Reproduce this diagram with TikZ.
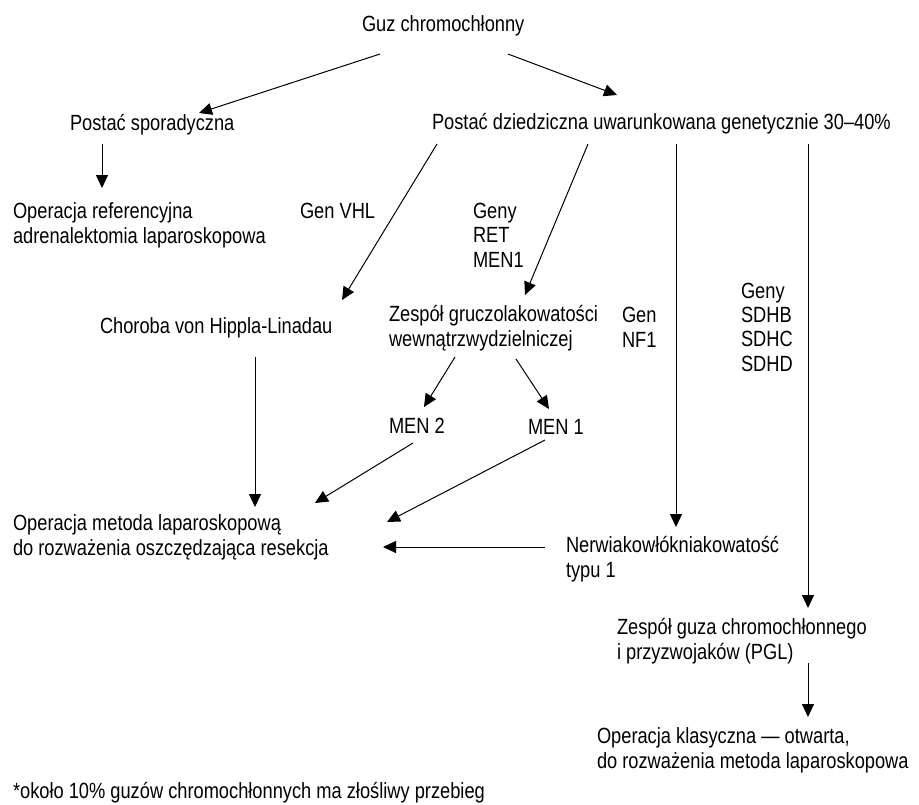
\documentclass[tikz,border=0pt]{standalone}
\usepackage{fontspec}
\setmainfont[FakeStretch=0.83]{Liberation Sans}
\usetikzlibrary{arrows.meta}
\begin{document}
\begin{tikzpicture}[x=1pt,y=-1pt,
  lbl/.style={anchor=base west,inner sep=0pt,outer sep=0pt,align=left,
    font=\fontsize{22}{24.3}\selectfont},
  arr/.style={line width=1pt,-{Triangle[length=13pt,width=12pt]}}]
\useasboundingbox (0,0) rectangle (919,804);
% base anchor of a multi-line node = baseline of its last line
\node[lbl] (guz) at (362,31) {Guz chromochłonny};
\node[lbl] (spor) at (70,130) {Postać sporadyczna};
\node[lbl] (dzied) at (432,129) {Postać dziedziczna uwarunkowana genetycznie 30–40\%};
\node[lbl] (oref) at (13,243) {Operacja referencyjna\\adrenalektomia laparoskopowa};
\node[lbl] (vhl) at (300,218) {Gen VHL};
\node[lbl] (ret) at (473,267) {Geny\\RET\\MEN1};
\node[lbl] (chor) at (100,333) {Choroba von Hippla-Linadau};
\node[lbl] (zesp) at (389,346) {Zespół gruczolakowatości\\wewnątrzwydzielniczej};
\node[lbl] (nf1) at (622,347) {Gen\\NF1};
\node[lbl] (sdh) at (741,371) {Geny\\SDHB\\SDHC\\SDHD};
\node[lbl] (men2) at (389,433) {MEN 2};
\node[lbl] (men1) at (528,434) {MEN 1};
\node[lbl] (omet) at (13,555) {Operacja metoda laparoskopową\\do rozważenia oszczędzająca resekcja};
\node[lbl] (nerw) at (566,577) {Nerwiakowłókniakowatość\\typu 1};
\node[lbl] (pgl) at (617,659) {Zespół guza chromochłonnego\\i przyzwojaków (PGL)};
\node[lbl] (okl) at (597,768) {Operacja klasyczna — otwarta,\\do rozważenia metoda laparoskopowa};
\node[lbl] (foot) at (13,798) {*około 10\% guzów chromochłonnych ma złośliwy przebieg};
% connectors
\draw[arr] ([shift={(18,23)}]guz.base west) -- ([shift={(129,-17)}]spor.base west);
\draw[arr] ([shift={(146,23)}]guz.base west) -- ([shift={(185,-34)}]dzied.base west);
\draw[arr] ([shift={(32,14)}]spor.base west) -- ([shift={(89,-55)}]oref.base west);
\draw[arr] ([shift={(5,15)}]dzied.base west) -- ([shift={(242,-33)}]chor.base west);
\draw[arr] ([shift={(156,15)}]dzied.base west) -- ([shift={(136,-51)}]zesp.base west);
\draw[arr] ([shift={(244,15)}]dzied.base west) -- ([shift={(110,-50)}]nerw.base west);
\draw[arr] ([shift={(376,15)}]dzied.base west) -- ([shift={(191,-51)}]pgl.base west);
\draw[arr] ([shift={(155,24)}]chor.base west) -- ([shift={(242,-48)}]omet.base west);
\draw[arr] ([shift={(66,11)}]zesp.base west) -- ([shift={(35,-26)}]men2.base west);
\draw[arr] ([shift={(127,13)}]zesp.base west) -- ([shift={(21,-25)}]men1.base west);
\draw[arr] ([shift={(24,10)}]men2.base west) -- ([shift={(302,-52)}]omet.base west);
\draw[arr] ([shift={(17,6)}]men1.base west) -- ([shift={(374,-33)}]omet.base west);
\draw[arr] ([shift={(-21,-30)}]nerw.base west) -- ([shift={(370,-8)}]omet.base west);
\draw[arr] ([shift={(191,4)}]pgl.base west) -- ([shift={(211,-51)}]okl.base west);
\end{tikzpicture}
\end{document}
